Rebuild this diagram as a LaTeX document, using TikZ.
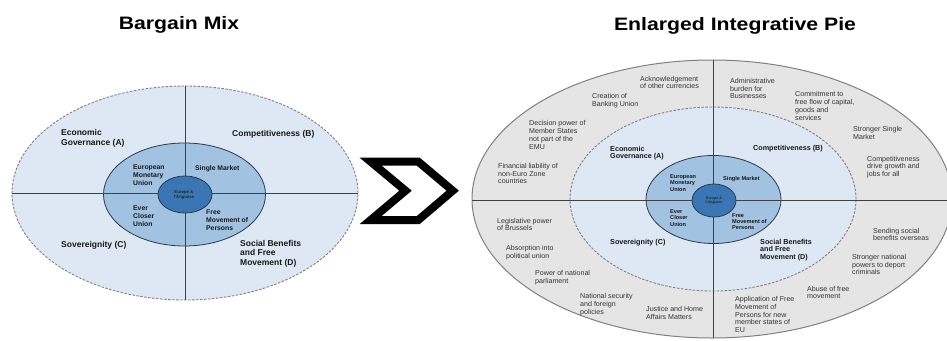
\documentclass[tikz,border=0pt]{standalone}
\usepackage{fontspec}
\setmainfont{Liberation Sans}
\usetikzlibrary{shapes.geometric}
\definecolor{lightb}{HTML}{DDE8F4}
\definecolor{midb}{HTML}{A2C2E2}
\definecolor{darkb}{HTML}{3A76B4}
\definecolor{ringline}{HTML}{2B3A4A}
\definecolor{outgray}{HTML}{E5E5E5}
\definecolor{bordgray}{HTML}{808080}
\definecolor{axis}{HTML}{404040}
\definecolor{txt}{HTML}{333333}
\tikzset{
  ell/.style={ellipse, inner sep=0pt, outer sep=0pt},
  dashb/.style={draw=bordgray, line width=0.9pt, dash pattern=on 2.5pt off 1.5pt},
  ringb/.style={draw=ringline, line width=0.8pt},
  axisl/.style={draw=axis, line width=0.8pt},
  lab/.style={anchor=west, align=left, inner sep=0pt, text=txt, font=\fontsize{7.1}{7.8}\selectfont},
  bigb/.style={anchor=west, align=left, inner sep=0pt, text=black!90, font=\bfseries\fontsize{8.5}{10}\selectfont},
  ringl/.style={anchor=west, align=left, inner sep=0pt, text=black!90, font=\bfseries\fontsize{6.8}{8}\selectfont},
  midr/.style={anchor=west, align=left, inner sep=0pt, text=black!90, font=\bfseries\fontsize{7.2}{7.6}\selectfont},
  ringr/.style={anchor=west, align=left, inner sep=0pt, text=black!90, font=\bfseries\fontsize{5.6}{6.3}\selectfont},
  title/.style={anchor=base, inner sep=0pt, font=\bfseries\fontsize{18}{20}\selectfont}
}
\begin{document}
\begin{tikzpicture}[x=1pt,y=-1pt]
\useasboundingbox (0,0) rectangle (947,340);
% titles
\node[title] (t1) at (179,29) {\scalebox{1.18}[1]{Bargain Mix}};
\node[title] (t2) at (735,30) {\scalebox{1.18}[1]{Enlarged Integrative Pie}};

% ---------- left diagram ----------
\node[ell, fill=lightb, dashb, minimum width=346pt, minimum height=214pt] (LO) at (185,193) {};
\node[ell, fill=midb, ringb, minimum width=162pt, minimum height=103pt] (LM) at (184.5,194.5) {};
\draw[axisl] (LO.west) -- (LO.east);
\draw[axisl] (LO.north) -- (LO.south);
\node[ell, fill=darkb, ringb, minimum width=54pt, minimum height=37pt] (LI) at (185,194.5) {};
\node[inner sep=0pt, align=center, font=\bfseries\fontsize{4.3}{4.8}\selectfont, text=black!85] (LIc) at (184,195) {Europe \&\\l'Anglaise};

\node[bigb] (LA) at (61,138) {Economic\\Governance (A)};
\node[bigb] (LB) at (232,134) {Competitiveness (B)};
\node[bigb] (LC) at (61,245) {Sovereignity (C)};
\node[bigb, font=\bfseries\fontsize{8.5}{9.6}\selectfont] (LD) at (240,253.5) {Social Benefits\\and Free\\Movement (D)};
\node[ringl] (LEMU) at (133,175) {European\\Monetary\\Union};
\node[ringl] (LSM) at (195,169) {Single Market};
\node[ringl] (LECU) at (133,216.5) {Ever\\Closer\\Union};
\node[ringl] (LFM) at (206,220) {Free\\Movement of\\Persons};

% ---------- chevron ----------
\coordinate (c1) at (370.7,161.7);
\coordinate (c2) at (418.3,161.7);
\coordinate (c3) at (452.7,190.7);
\coordinate (c4) at (418.3,220);
\coordinate (c5) at (370.7,220);
\coordinate (c6) at (405.5,190.7);
\draw[line width=8pt, miter limit=4, line join=miter] (c1) -- (c2) -- (c3) -- (c4) -- (c5) -- (c6) -- cycle;

% ---------- right diagram ----------
\node[ell, fill=outgray, draw=bordgray, line width=1pt, minimum width=480pt, minimum height=278pt] (RO) at (712,199) {};
\node[ell, fill=lightb, dashb, minimum width=286pt, minimum height=184pt] (RL) at (713,199) {};
\node[ell, fill=midb, ringb, minimum width=135pt, minimum height=88pt] (RM) at (713.5,199.5) {};
\coordinate (RH1) at (472,200);
\coordinate (RH2) at (947,200);
\coordinate (RV1) at (713,60);
\coordinate (RV2) at (713,338);
\draw[axisl] (RH1) -- (RH2);
\draw[axisl] (RV1) -- (RV2);
\node[ell, fill=darkb, ringb, minimum width=44pt, minimum height=33pt] (RI) at (714,200.5) {};
\node[inner sep=0pt, align=center, font=\bfseries\fontsize{3.5}{3.9}\selectfont, text=black!85] (RIc) at (714,200.5) {Europe \&\\l'Anglaise};

\node[midr] (RA) at (610,153) {Economic\\Governance (A)};
\node[midr] (RB) at (753,149) {Competitiveness (B)};
\node[midr] (RC) at (610,243) {Sovereignity (C)};
\node[midr] (RD) at (760,250) {Social Benefits\\and Free\\Movement (D)};
\node[ringr] (REMU) at (670,183) {European\\Monetary\\Union};
\node[ringr] (RSM) at (723,179) {Single Market};
\node[ringr] (RECU) at (670,218) {Ever\\Closer\\Union};
\node[ringr] (RFM) at (732,221.5) {Free\\Movement of\\Persons};

\node[lab] (o1) at (640,82.5) {Acknowledgement\\of other currencies};
\node[lab] (o2) at (592,101) {Creation of\\Banking Union};
\node[lab] (o3) at (529,135) {Decision power of\\Member States\\not part of the\\EMU};
\node[lab] (o4) at (498,173.5) {Financial liability of\\non-Euro Zone\\countries};
\node[lab] (o5) at (730,88.5) {Administrative\\burden for\\Businesses};
\node[lab] (o6) at (795,106) {Commitment to\\free flow of capital,\\goods and\\services};
\node[lab] (o7) at (853,133) {Stronger Single\\Market};
\node[lab] (o8) at (867,167) {Competitiveness\\drive growth and\\jobs for all};
\node[lab] (o9) at (497,224.5) {Legislative power\\of Brussels};
\node[lab] (o10) at (506,252.5) {Absorption into\\political union};
\node[lab] (o11) at (535,278) {Power of national\\parliament};
\node[lab] (o12) at (580,304.5) {National security\\and foreign\\policies};
\node[lab] (o13) at (646,313) {Justice and Home\\Affairs Matters};
\node[lab] (o14) at (873,234.5) {Sending social\\benefits overseas};
\node[lab] (o15) at (852,264.5) {Stronger national\\powers to deport\\criminals};
\node[lab] (o16) at (807,292.5) {Abuse of free\\movement};
\node[lab] (o17) at (735,314.5) {Application of Free\\Movement of\\Persons for new\\member states of\\EU};
\end{tikzpicture}
\end{document}
